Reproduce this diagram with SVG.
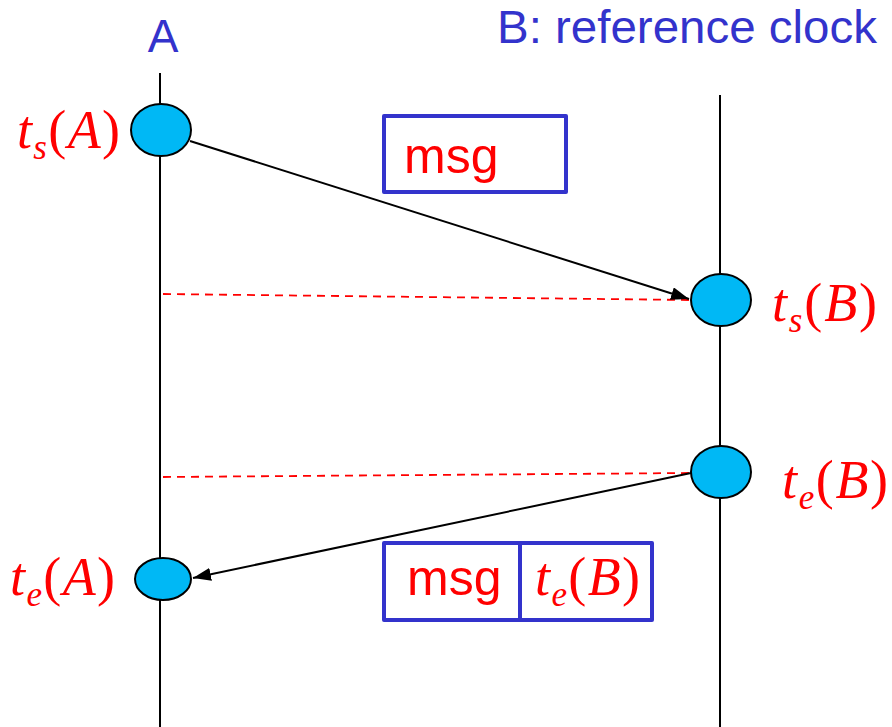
<svg xmlns="http://www.w3.org/2000/svg" width="892" height="727" viewBox="0 0 892 727">
<style>
.life{stroke:#000;stroke-width:2;fill:none}
.ev{fill:#00B8F5;stroke:#000;stroke-width:2}
.msg{stroke:#000;stroke-width:2;fill:none}
.dash{stroke:#FF0000;stroke-width:1.8;stroke-dasharray:8,6;fill:none}
.box{fill:#fff;stroke:#3333CC;stroke-width:4;stroke-linejoin:round}
.title{font-family:"Liberation Sans",Arial,sans-serif;fill:#3333CC;font-size:46px}
.txt{font-family:"Liberation Sans",Arial,sans-serif;fill:#FF0000;font-size:50px}
.math{font-family:"Liberation Serif","Times New Roman",serif;fill:#FF0000;font-size:54px}
.it{font-style:italic}
.sub{font-style:italic;font-size:35px}
</style>
<defs>
<marker id="ah2" viewBox="0 0 10 10" refX="10" refY="5" markerWidth="18" markerHeight="13" markerUnits="userSpaceOnUse" orient="auto" preserveAspectRatio="none">
<path d="M0,0 L10,5 L0,10 z" fill="#000"/>
</marker>
</defs>
<g id="lifelines">
<line class="life" x1="160" y1="73" x2="160" y2="727"/>
<line class="life" x1="720" y1="95" x2="720" y2="727"/>
</g>
<g id="titles">
<text class="title" x="163" y="52" text-anchor="middle">A</text>
<text class="title" x="497" y="43" textLength="380" lengthAdjust="spacingAndGlyphs">B: reference clock</text>
</g>
<g id="connectors">
<line class="dash" x1="163" y1="294" x2="690" y2="300"/>
<line class="dash" x1="163" y1="477" x2="690" y2="473"/>
<line class="msg" x1="190" y1="141" x2="689" y2="299" marker-end="url(#ah2)"/>
<line class="msg" x1="691" y1="473" x2="193" y2="578" marker-end="url(#ah2)"/>
</g>
<g id="tsA">
<ellipse class="ev" cx="161" cy="130" rx="30" ry="26"/>
<text class="math" x="17" y="148" textLength="103" lengthAdjust="spacing"><tspan class="it">t</tspan><tspan class="sub" dy="11">s</tspan><tspan dy="-11">(</tspan><tspan class="it">A</tspan>)</text>
</g>
<g id="tsB">
<ellipse class="ev" cx="721" cy="300" rx="30" ry="26"/>
<text class="math" x="772" y="321" textLength="105" lengthAdjust="spacing"><tspan class="it">t</tspan><tspan class="sub" dy="11">s</tspan><tspan dy="-11">(</tspan><tspan class="it">B</tspan>)</text>
</g>
<g id="teB">
<ellipse class="ev" cx="721" cy="472" rx="30" ry="26"/>
<text class="math" x="782" y="498" textLength="106" lengthAdjust="spacing"><tspan class="it">t</tspan><tspan class="sub" dy="11">e</tspan><tspan dy="-11">(</tspan><tspan class="it">B</tspan>)</text>
</g>
<g id="teA">
<ellipse class="ev" cx="163" cy="579" rx="28" ry="21"/>
<text class="math" x="10" y="595" textLength="105" lengthAdjust="spacing"><tspan class="it">t</tspan><tspan class="sub" dy="11">e</tspan><tspan dy="-11">(</tspan><tspan class="it">A</tspan>)</text>
</g>
<g id="msg1">
<rect class="box" x="384" y="116" width="182" height="76"/>
<text class="txt" x="404" y="173">msg</text>
</g>
<g id="msg2">
<rect class="box" x="384" y="543" width="268" height="77"/>
<line stroke="#3333CC" stroke-width="4" x1="520" y1="543" x2="520" y2="620"/>
<text class="txt" x="407" y="595">msg</text>
<text class="math" x="535" y="595" textLength="105" lengthAdjust="spacing"><tspan class="it">t</tspan><tspan class="sub" dy="11">e</tspan><tspan dy="-11">(</tspan><tspan class="it">B</tspan>)</text>
</g>
</svg>
